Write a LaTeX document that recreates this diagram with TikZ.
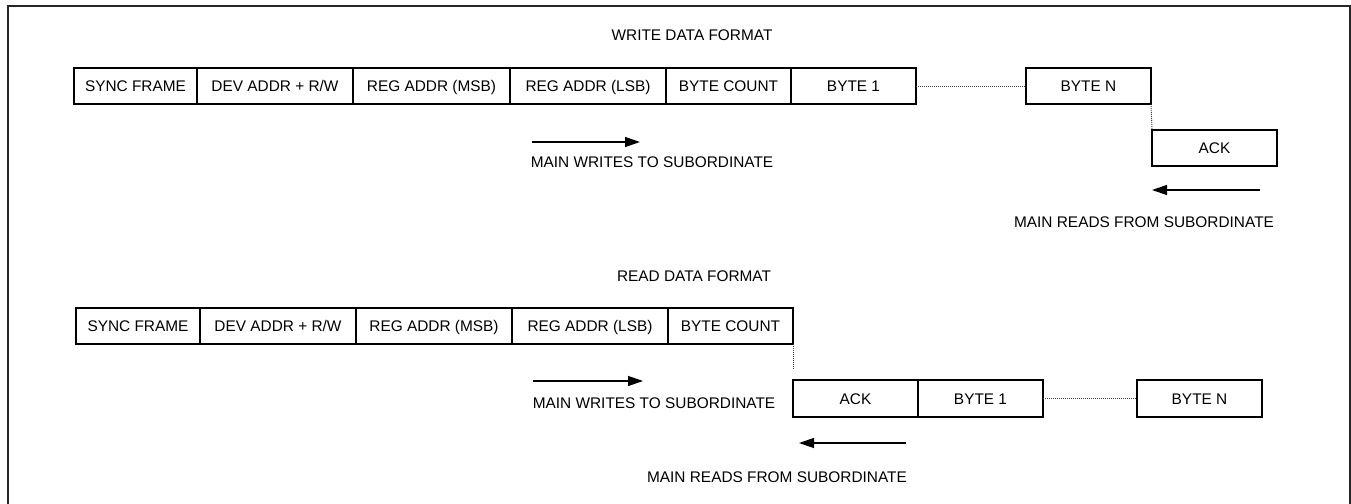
\documentclass[tikz,border=0pt]{standalone}
\usepackage{fontspec}
\setmainfont{Liberation Sans}
\usetikzlibrary{arrows.meta,calc}
\begin{document}
\begin{tikzpicture}[x=1pt,y=-1pt,
  box/.style={draw=black,line width=1.1pt,rectangle,inner sep=0pt,outer sep=0pt,minimum height=36pt,text height=11pt,text depth=0pt,font=\fontsize{15.4}{18}\selectfont,anchor=west},
  lbl/.style={inner sep=0pt,anchor=base,font=\fontsize{15.4}{18}\selectfont},
  dots/.style={line width=0.9pt,black!75,dash pattern=on 1pt off 1pt},
  flow/.style={line width=1.3pt,-{Triangle[length=15pt,width=10pt]}}]
\useasboundingbox (0,0) rectangle (1351,503);
\draw[line width=1.6pt,black!85] (8,504) -- (8,6) -- (1350,6) -- (1350,504);
% write format
\node[lbl] (t1) at (692,41) {WRITE DATA FORMAT};
\node[box,minimum width=123pt] (w1) at (74,86) {SYNC FRAME};
\node[box,minimum width=156pt] (w2) at (w1.east) {DEV ADDR + R/W};
\node[box,minimum width=157pt] (w3) at (w2.east) {REG ADDR (MSB)};
\node[box,minimum width=156pt] (w4) at (w3.east) {REG ADDR (LSB)};
\node[box,minimum width=125pt] (w5) at (w4.east) {BYTE COUNT};
\node[box,minimum width=125pt] (w6) at (w5.east) {BYTE 1};
\node[box,minimum width=125pt] (wN) at (1026,86) {BYTE N};
\node[box,minimum width=125pt] (wA) at (1152,148) {ACK};
\draw[dots] (w6.east) -- (wN.west);
\draw[dots] (wN.south east) -- (wA.north west);
\coordinate (wa1) at (532,142); \coordinate (wa2) at (640,142);
\draw[flow] (wa1) -- (wa2);
\node[lbl] (wl1) at (652,167) {MAIN WRITES TO SUBORDINATE};
\coordinate (ra1) at (1260,190); \coordinate (ra2) at (1152,190);
\draw[flow] (ra1) -- (ra2);
\node[lbl] (rl1) at (1144,227) {MAIN READS FROM SUBORDINATE};
% read format
\node[lbl] (t2) at (694,281) {READ DATA FORMAT};
\node[box,minimum width=124pt] (r1) at (76,326) {SYNC FRAME};
\node[box,minimum width=156pt] (r2) at (r1.east) {DEV ADDR + R/W};
\node[box,minimum width=156pt] (r3) at (r2.east) {REG ADDR (MSB)};
\node[box,minimum width=156pt] (r4) at (r3.east) {REG ADDR (LSB)};
\node[box,minimum width=125pt] (r5) at (r4.east) {BYTE COUNT};
\node[box,minimum width=125pt,minimum height=37pt] (rA) at (793,398.5) {ACK};
\node[box,minimum width=125pt,minimum height=37pt] (r6) at (rA.east) {BYTE 1};
\node[box,minimum width=125pt,minimum height=37pt] (rN) at (1137,398.5) {BYTE N};
\coordinate (gap) at ($(rA.north west)+(0,-10)$);
\draw[dots] (r5.south east) -- (gap);
\draw[dots] (r6.east) -- (rN.west);
\coordinate (wb1) at (533,381); \coordinate (wb2) at (643,381);
\draw[flow] (wb1) -- (wb2);
\node[lbl] (wl2) at (654,408) {MAIN WRITES TO SUBORDINATE};
\coordinate (rb1) at (906,443); \coordinate (rb2) at (799,443);
\draw[flow] (rb1) -- (rb2);
\node[lbl] (rl2) at (777,482) {MAIN READS FROM SUBORDINATE};
\end{tikzpicture}
\end{document}
